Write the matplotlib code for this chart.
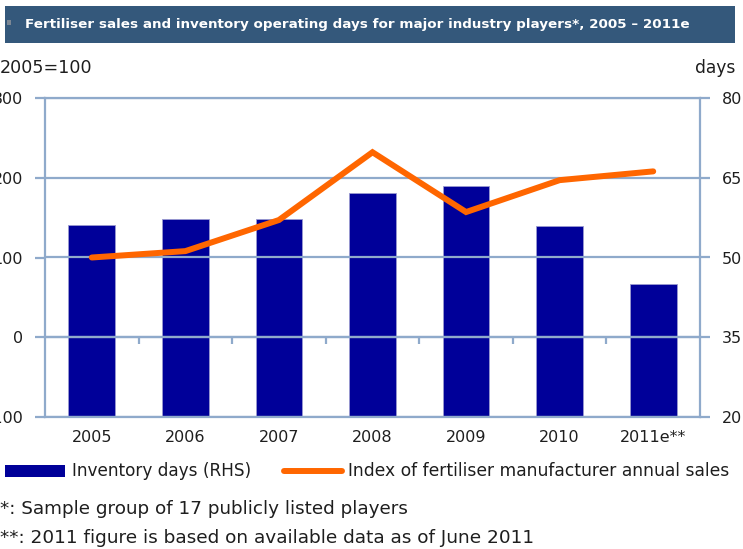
import matplotlib
matplotlib.use('Agg')
import matplotlib.pyplot as plt
from matplotlib.patches import Rectangle
from matplotlib.lines import Line2D
import numpy as np

# ---- data ----
years = ['2005', '2006', '2007', '2008', '2009', '2010', '2011e**']
inventory_days = [56.2, 57.3, 57.2, 62.1, 63.5, 55.9, 45.1]
sales_index = [100, 108, 147, 232, 157, 197, 208]
left_ticks = [-100, 0, 100, 200, 300]
right_ticks = [20, 35, 50, 65, 80]

title = 'Fertiliser sales and inventory operating days for major industry players*, 2005 \u2013 2011e'
legend_bar = 'Inventory days (RHS)'
legend_line = 'Index of fertiliser manufacturer annual sales'
note1 = '*: Sample group of 17 publicly listed players'
note2 = '**: 2011 figure is based on available data as of June 2011'

W, H = 743, 549
fig = plt.figure(figsize=(W / 100, H / 100), dpi=100)
fig.patch.set_facecolor('white')

def fx(px):
    return px / W

def fy(py):
    return 1 - py / H

grid_c = '#8FAACB'
bar_c = '#000099'
line_c = '#FF6600'
txt_c = '#1E1E1E'
fs = 11.5

ax = fig.add_axes([fx(45), fy(417), fx(700) - fx(45), fy(98) - fy(417)])
x = np.arange(len(years))
bars = ax.bar(x, inventory_days, width=0.5, color=bar_c, edgecolor='#9A9AD0',
              linewidth=0.6, zorder=1)
ax.set_xlim(-0.5, len(years) - 0.5)
ax.set_ylim(right_ticks[0], right_ticks[-1])

ax2 = ax.twinx()
ax2.set_ylim(left_ticks[0], left_ticks[-1])
ax2.set_yticks(left_ticks)
ax2.yaxis.tick_left()
ax2.plot(x, sales_index, color=line_c, lw=4.3, solid_capstyle='round',
         solid_joinstyle='miter', zorder=3)

# bar (RHS) axis
ax.set_yticks(right_ticks)
ax.yaxis.tick_right()
ax.set_axisbelow(False)
ax.yaxis.grid(True, color=grid_c, lw=1.6)
ax.set_xticks(x, years)
ax.set_xticks(x[:-1] + 0.5, minor=True)
ax.tick_params(axis='x', which='major', length=0, pad=9, labelsize=fs, labelcolor=txt_c)
ax.tick_params(axis='x', which='minor', length=0)
ax.tick_params(axis='y', which='major', right=True, left=False, length=7, width=1.6,
               color=grid_c, pad=9, labelsize=fs, labelcolor=txt_c)
for s in ['left', 'right', 'top', 'bottom']:
    ax.spines[s].set_color(grid_c)
    ax.spines[s].set_linewidth(1.6)

# index (LHS) axis
ax2.tick_params(axis='y', which='major', left=True, right=False, length=7, width=1.6,
                color=grid_c, pad=9, labelsize=fs, labelcolor=txt_c)
ax2.xaxis.set_visible(True)
ax2.xaxis.set_ticks_position('bottom')
ax2.tick_params(axis='x', which='major', length=0, labelbottom=False)
ax2.tick_params(axis='x', which='minor', length=5, width=1.6, color=grid_c,
                direction='out', bottom=True)
for s in ['left', 'right', 'top']:
    ax2.spines[s].set_visible(False)
ax2.spines['bottom'].set_position(('data', 0))
ax2.spines['bottom'].set_color(grid_c)
ax2.spines['bottom'].set_linewidth(1.6)

# axis unit labels
fig.text(fx(0), fy(68), '2005=100', fontsize=12.6, color=txt_c, ha='left', va='center')
fig.text(fx(735), fy(68), 'days', fontsize=12.3, color=txt_c, ha='right', va='center')

# title bar
fig.patches.append(Rectangle((fx(5), fy(43)), fx(735) - fx(5), fy(6) - fy(43),
                             transform=fig.transFigure, facecolor='#34587B',
                             edgecolor='none', zorder=0))
fig.patches.append(Rectangle((fx(7), fy(25)), fx(4), fy(20) - fy(25),
                             transform=fig.transFigure, facecolor='#7C8794',
                             edgecolor='none', zorder=1))
fig.text(fx(25), fy(24.5), title, fontsize=9.7, fontweight='bold', color='white',
         ha='left', va='center')

# legend
fig.patches.append(Rectangle((fx(5), fy(477)), fx(60), fy(465) - fy(477),
                             transform=fig.transFigure, facecolor=bar_c,
                             edgecolor='none'))
fig.text(fx(72), fy(471), legend_bar, fontsize=12.2, color=txt_c, ha='left', va='center')
fig.add_artist(Line2D([fx(284), fx(342)], [fy(471), fy(471)], transform=fig.transFigure,
                      color=line_c, lw=4.3, solid_capstyle='round'))
fig.text(fx(348), fy(471), legend_line, fontsize=12.3, color=txt_c, ha='left', va='center')

# notes
fig.text(fx(0), fy(509), note1, fontsize=13.2, color=txt_c, ha='left', va='center')
fig.text(fx(0), fy(538), note2, fontsize=13.3, color=txt_c, ha='left', va='center')

fig.savefig('out.png', dpi=100)
